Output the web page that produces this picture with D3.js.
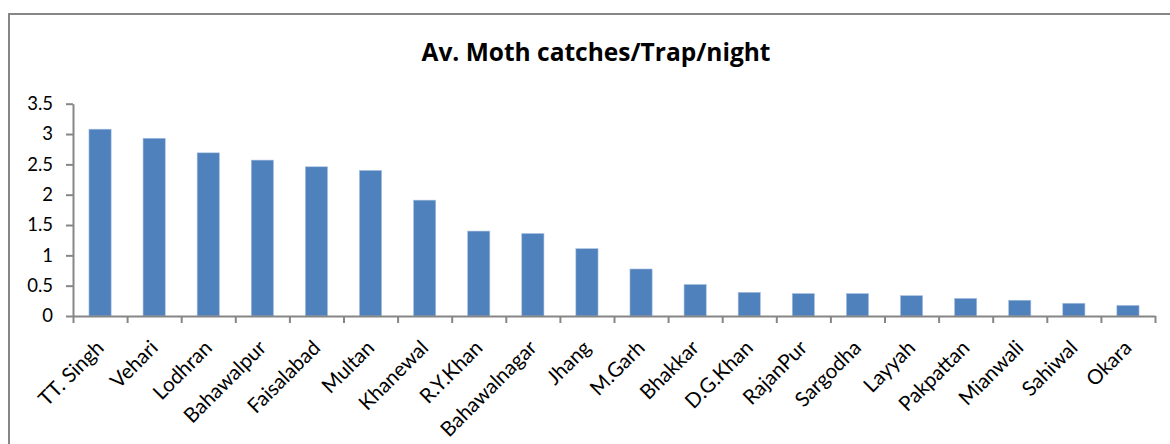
<!DOCTYPE html>
<html>
<head>
<meta charset="utf-8">
<script src="https://cdn.jsdelivr.net/npm/d3@7"></script>
<style>
  body { margin: 0; background: #fff; }
  text { font-family: Lato, "Open Sans", sans-serif; fill: #000; }
</style>
</head>
<body>
<div id="chart"></div>
<script>
// districts, in chart order
var districts = ["TT. Singh", "Vehari", "Lodhran", "Bahawalpur", "Faisalabad", "Multan",
  "Khanewal", "R.Y.Khan", "Bahawalnagar", "Jhang", "M.Garh", "Bhakkar", "D.G.Khan",
  "RajanPur", "Sargodha", "Layyah", "Pakpattan", "Mianwali", "Sahiwal", "Okara"];

// average moth catches per trap per night
var catches = [3.08, 2.93, 2.69, 2.57, 2.46, 2.40, 1.91, 1.40, 1.36, 1.11, 0.775,
  0.52, 0.39, 0.37, 0.37, 0.335, 0.29, 0.26, 0.21, 0.175];

var yTicks = [0, 0.5, 1, 1.5, 2, 2.5, 3, 3.5];

var chartTitle = "Av. Moth catches/Trap/night";

var W = 1170, H = 444;
var left = 73, right = 1155, zeroY = 316, topY = 103.7;

var svg = d3.select("#chart").append("svg")
  .attr("width", W)
  .attr("height", H);

svg.append("rect").attr("width", W).attr("height", H).attr("fill", "#fff");

// outer frame of the chart area (runs off the right and bottom edges)
svg.append("rect")
  .attr("x", 9).attr("y", 14)
  .attr("width", 1300).attr("height", 600)
  .attr("fill", "none")
  .attr("stroke", "#868686")
  .attr("stroke-width", 2);

svg.append("text")
  .attr("x", 596).attr("y", 61)
  .attr("text-anchor", "middle")
  .style("font-family", "'Open Sans', sans-serif")
  .style("font-size", "24.5px")
  .style("font-weight", "bold")
  .text(chartTitle);

var x = d3.scaleBand()
  .domain(districts)
  .range([left, right])
  .paddingInner(0.59)
  .paddingOuter(0.295);

var y = d3.scaleLinear()
  .domain([0, 3.5])
  .range([zeroY, topY]);

// bars
svg.append("g")
  .selectAll("rect")
  .data(districts)
  .enter()
  .append("rect")
  .attr("x", function(d){ return x(d); })
  .attr("width", x.bandwidth())
  .attr("y", function(d, i){ return y(catches[i]); })
  .attr("height", function(d, i){ return y(0) - y(catches[i]); })
  .attr("fill", "#4F81BD")
  .attr("stroke", "#a9c1df")
  .attr("stroke-width", 0.6);

// y axis
var yAxis = svg.append("g")
  .attr("transform", "translate(" + left + ",0)")
  .call(d3.axisLeft(y).tickValues(yTicks).tickSize(7).tickSizeOuter(0).tickPadding(13)
    .tickFormat(function(d){ return d; }));

// x axis: ticks sit between categories
var xb = d3.scaleLinear().domain([0, districts.length]).range([left, right]);
var xAxis = svg.append("g")
  .attr("transform", "translate(0," + zeroY + ")")
  .call(d3.axisBottom(xb).tickValues(d3.range(districts.length + 1)).tickSize(7)
    .tickSizeOuter(0).tickFormat(""));

svg.selectAll(".domain, .tick line")
  .attr("stroke", "#868686")
  .attr("stroke-width", 2);

yAxis.selectAll("text")
  .style("font-size", "18.5px")
  .attr("fill", "#000");

// rotated district labels
svg.append("g")
  .selectAll("text")
  .data(districts)
  .enter()
  .append("text")
  .attr("transform", function(d){
    return "translate(" + (x(d) + x.bandwidth() / 2) + "," + (zeroY + 28) + ") rotate(-45)";
  })
  .attr("text-anchor", "end")
  .attr("dy", "0.35em")
  .style("font-size", "20.5px")
  .text(function(d){ return d; });
</script>
</body>
</html>
